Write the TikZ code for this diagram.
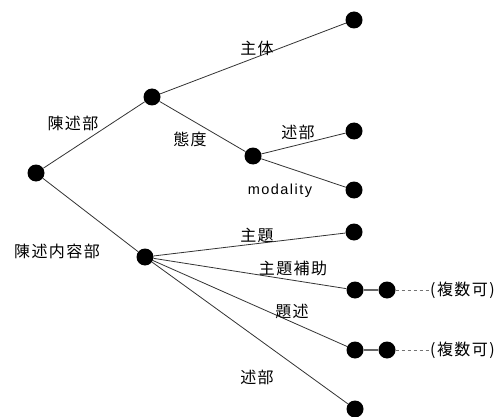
\documentclass[tikz,border=0pt]{standalone}
\usepackage{fontspec}
\setmainfont{Liberation Sans}
\newfontfamily\jp[LetterSpace=9]{Noto Sans CJK JP}
\newfontfamily\lat[LetterSpace=10]{Liberation Sans}
\begin{document}
\begin{tikzpicture}[x=1pt,y=-1pt,
  dot/.style={circle,fill=black,inner sep=0pt,minimum size=17pt},
  edge/.style={draw=black!80,line width=0.8pt},
  link/.style={draw=black!60,line width=1.6pt},
  dashlink/.style={draw=black!55,line width=1pt,dash pattern=on 3pt off 3pt},
  lbl/.style={font=\jp\fontsize{16}{17}\selectfont,inner sep=0pt},
  lbllat/.style={font=\lat\fontsize{14.5}{15}\selectfont,inner sep=0pt}]
\useasboundingbox (0,0) rectangle (503,417);
% nodes
\node[dot] (root) at (36,173) {};
\node[dot] (a) at (152,97) {};
\node[dot] (b) at (145,257) {};
\node[dot] (shutai) at (354,20) {};
\node[dot] (taido) at (253,156) {};
\node[dot] (jutsubu1) at (354,131) {};
\node[dot] (modal) at (354,190) {};
\node[dot] (shudai) at (354,232) {};
\node[dot] (hojo1) at (355,290) {};
\node[dot] (hojo2) at (387,290) {};
\node[dot] (daijutsu1) at (355,350) {};
\node[dot] (daijutsu2) at (387,350) {};
\node[dot] (jutsubu2) at (355,409) {};
\coordinate (hojoend) at (430,290);
\coordinate (daijutsuend) at (430,350);
% edges
\draw[edge] (root) -- (a);
\draw[edge] (root) -- (b);
\draw[edge] (a) -- (shutai);
\draw[edge] (a) -- (taido);
\draw[edge] (taido) -- (jutsubu1);
\draw[edge] (taido) -- (modal);
\draw[edge] (b) -- (shudai);
\draw[edge] (b) -- (hojo1);
\draw[edge] (b) -- (daijutsu1);
\draw[edge] (b) -- (jutsubu2);
\draw[link] (hojo1) -- (hojo2);
\draw[link] (daijutsu1) -- (daijutsu2);
\draw[dashlink] (hojo2) -- (hojoend);
\draw[dashlink] (daijutsu2) -- (daijutsuend);
% labels
\node[lbl] (l1) at (73,123) {陳述部};
\node[lbl] (l2) at (257,48) {主体};
\node[lbl] (l3) at (190,139) {態度};
\node[lbl] (l4) at (298,132) {述部};
\node[lbllat] (l5) at (280,191) {modality};
\node[lbl] (l6) at (57,251) {陳述内容部};
\node[lbl] (l7) at (257,235) {主題};
\node[lbl] (l8) at (293,268) {主題補助};
\node[lbl] (l9) at (292,311) {題述};
\node[lbl] (l10) at (257,377) {述部};
\node[lbl,anchor=west] (l11) at (hojoend) {(複数可)};
\node[lbl,anchor=west] (l12) at (daijutsuend) {(複数可)};
\end{tikzpicture}
\end{document}
